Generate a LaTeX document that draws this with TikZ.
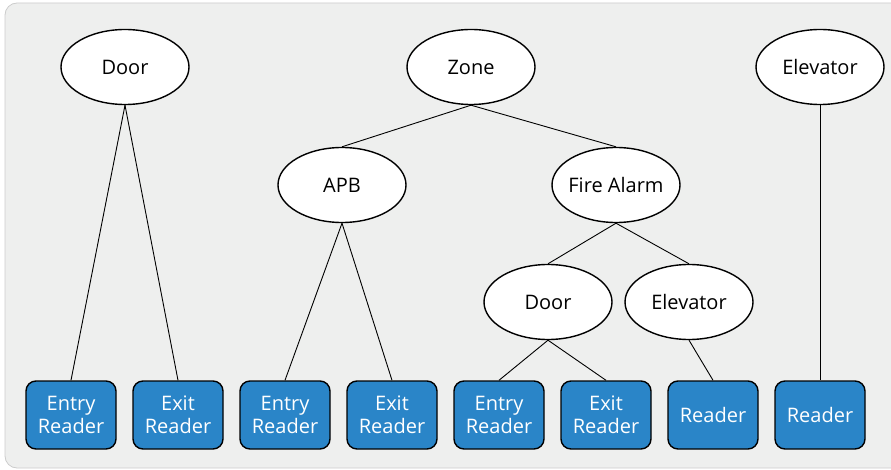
\documentclass[tikz,border=0pt]{standalone}
\usepackage{fontspec}
\setmainfont{Open Sans}
\usetikzlibrary{shapes.geometric}
\definecolor{bgc}{HTML}{EEEFEE}
\definecolor{boxc}{HTML}{2A85C8}
\begin{document}
\begin{tikzpicture}[x=1pt,y=-1pt,
  oval/.style={ellipse, draw=black, line width=1.4pt, fill=white, minimum width=128pt, minimum height=75pt, inner ysep=0pt, inner xsep=-6pt, font=\fontsize{20}{24}\selectfont},
  rbox/.style={rectangle, rounded corners=10pt, draw=black, line width=1.4pt, fill=boxc, text=white, minimum width=90pt, minimum height=68pt, inner sep=0pt, align=center, font=\fontsize{20}{23.5}\selectfont},
  link/.style={draw=black, line width=0.9pt}]
\useasboundingbox (0,0) rectangle (891,470);
\fill[bgc, draw=black!20, line width=0.8pt, rounded corners=12pt] (5,3) rectangle (910,468);
% ovals
\node[oval] (door1) at (125,67) {Door};
\node[oval] (zone) at (471,67) {Zone};
\node[oval] (elev1) at (820,67) {Elevator};
\node[oval] (apb) at (342,185) {APB};
\node[oval] (fire) at (616,185) {Fire Alarm};
\node[oval] (door2) at (548,302) {Door};
\node[oval] (elev2) at (689,302) {Elevator};
% boxes
\node[rbox] (r1) at (71,415) {Entry\\Reader};
\node[rbox] (r2) at (178,415) {Exit\\Reader};
\node[rbox] (r3) at (285,415) {Entry\\Reader};
\node[rbox] (r4) at (392,415) {Exit\\Reader};
\node[rbox] (r5) at (499,415) {Entry\\Reader};
\node[rbox] (r6) at (606,415) {Exit\\Reader};
\node[rbox] (r7) at (713,415) {Reader};
\node[rbox] (r8) at (820,415) {Reader};
% links
\draw[link] (door1.south) -- (r1.north);
\draw[link] (door1.south) -- (r2.north);
\draw[link] (zone.south) -- (apb.north);
\draw[link] (zone.south) -- (fire.north);
\draw[link] (apb.south) -- (r3.north);
\draw[link] (apb.south) -- (r4.north);
\draw[link] (fire.south) -- (door2.north);
\draw[link] (fire.south) -- (elev2.north);
\draw[link] (door2.south) -- (r5.north);
\draw[link] (door2.south) -- (r6.north);
\draw[link] (elev2.south) -- (r7.north);
\draw[link] (elev1.south) -- (r8.north);
\end{tikzpicture}
\end{document}
